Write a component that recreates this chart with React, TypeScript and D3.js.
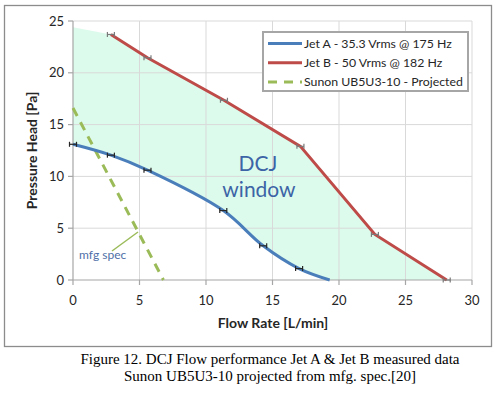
import React from "react";
import * as d3 from "d3";

const jetA: [number, number][] = [
  [0, 13.1], [2.85, 12.05], [5.6, 10.6], [11.3, 6.7], [14.3, 3.3], [17.0, 1.1], [19.3, 0],
];
const jetAMarkers: [number, number][] = [
  [0, 13.1], [2.85, 12.05], [5.6, 10.6], [11.3, 6.7], [14.3, 3.3], [17.0, 1.1],
];
const jetB: [number, number][] = [
  [2.85, 23.7], [5.6, 21.45], [11.35, 17.35], [17.1, 12.9], [22.7, 4.4], [28.1, 0],
];
const sunon: [number, number][] = [
  [0, 16.6], [6.8, 0],
];
const windowTop: [number, number][] = [[0, 24.4]];
const xTicks = [0, 5, 10, 15, 20, 25, 30];
const yTicks = [0, 5, 10, 15, 20, 25];
const legendItems = [
  { label: "Jet A - 35.3 Vrms @ 175 Hz", color: "#4a7ebb", dash: "" },
  { label: "Jet B - 50 Vrms @ 182 Hz", color: "#be4b48", dash: "" },
  { label: "Sunon UB5U3-10 - Projected", color: "#9bbb59", dash: "9,7" },
];

const FONT = "Lato, 'Open Sans', sans-serif";

export default function App() {
  const W = 498, H = 397;
  const x = d3.scaleLinear().domain([0, 30]).range([73, 472]);
  const y = d3.scaleLinear().domain([0, 25]).range([280, 21]);

  const lineLin = d3.line<[number, number]>().x(d => x(d[0])).y(d => y(d[1]));
  const lineSmooth = d3
    .line<[number, number]>()
    .x(d => x(d[0]))
    .y(d => y(d[1]))
    .curve(d3.curveCatmullRom.alpha(0.5));

  const topPath = lineLin([...windowTop, ...jetB]) as string;
  const bottomPath = (lineSmooth([...jetA].reverse()) as string).replace(/^M/, "L");
  const areaPath = topPath + bottomPath + "Z";

  const hMarker = (p: [number, number], color: string, key: string) => {
    const cx = x(p[0]), cy = y(p[1]);
    const hw = 3.5, hh = 2.5;
    return (
      <g key={key} stroke={color} strokeWidth={1.2} fill="none">
        <line x1={cx - hw} x2={cx + hw} y1={cy} y2={cy} />
        <line x1={cx - hw} x2={cx - hw} y1={cy - hh} y2={cy + hh} />
        <line x1={cx + hw} x2={cx + hw} y1={cy - hh} y2={cy + hh} />
      </g>
    );
  };

  return (
    <svg width={W} height={H} style={{ position: "absolute", left: 0, top: 0, background: "#fff" }}>
      <rect x={0} y={0} width={W} height={H} fill="#fff" />
      <rect x={4.5} y={5.5} width={487} height={341} fill="#fff" stroke="#8c8c8c" strokeWidth={1.3} />

      {/* window fill */}
      <path d={areaPath} fill="#dcfbec" stroke="none" />

      {/* gridlines */}
      {xTicks.filter(t => t > 0).map(t => (
        <line key={"gx" + t} x1={x(t)} x2={x(t)} y1={y(0)} y2={y(25)} stroke="#d9d9d9" strokeWidth={1} />
      ))}
      {yTicks.filter(t => t > 0).map(t => (
        <line key={"gy" + t} x1={x(0)} x2={x(30)} y1={y(t)} y2={y(t)} stroke="#d9d9d9" strokeWidth={1} />
      ))}

      {/* axes */}
      <line x1={x(0)} x2={x(30)} y1={y(0)} y2={y(0)} stroke="#a6a6a6" strokeWidth={1.2} />
      <line x1={x(0)} x2={x(0)} y1={y(0)} y2={y(25)} stroke="#a6a6a6" strokeWidth={1.2} />
      {xTicks.map(t => (
        <line key={"tx" + t} x1={x(t)} x2={x(t)} y1={y(0)} y2={y(0) + 5} stroke="#a6a6a6" strokeWidth={1.2} />
      ))}
      {yTicks.map(t => (
        <line key={"ty" + t} x1={x(0) - 5} x2={x(0)} y1={y(t)} y2={y(t)} stroke="#a6a6a6" strokeWidth={1.2} />
      ))}
      {xTicks.map(t => (
        <text key={"lx" + t} x={x(t)} y={305} textAnchor="middle" fontFamily={FONT} fontSize={13} fill="#262626">
          {t}
        </text>
      ))}
      {yTicks.map(t => (
        <text key={"ly" + t} x={64} y={y(t) + 4.5} textAnchor="end" fontFamily={FONT} fontSize={13} fill="#262626">
          {t}
        </text>
      ))}

      {/* axis titles */}
      <text x={273} y={328} textAnchor="middle" fontFamily={FONT} fontSize={14} fontWeight="bold" fill="#262626">
        Flow Rate [L/min]
      </text>
      <text
        transform={`translate(37,${y(12.5)}) rotate(-90)`}
        textAnchor="middle"
        fontFamily={FONT}
        fontSize={14}
        fontWeight="bold"
        fill="#262626"
      >
        Pressure Head [Pa]
      </text>

      {/* series */}
      <path d={lineLin(sunon) as string} fill="none" stroke="#9bbb59" strokeWidth={3} strokeDasharray="9,7" />
      <path d={lineSmooth(jetA) as string} fill="none" stroke="#4a7ebb" strokeWidth={3} />
      <path d={lineLin(jetB) as string} fill="none" stroke="#be4b48" strokeWidth={3} />
      {jetAMarkers.map((p, i) => hMarker(p, "#262626", "ma" + i))}
      {jetB.map((p, i) => hMarker(p, "#7a7a7a", "mb" + i))}

      {/* annotations */}
      <text x={258} y={171} textAnchor="middle" fontFamily={FONT} fontSize={21} fill="#3c64a6">DCJ</text>
      <text x={259} y={197} textAnchor="middle" fontFamily={FONT} fontSize={21} fill="#3c64a6">window</text>
      <line x1={112} y1={251} x2={138} y2={232} stroke="#9bbb59" strokeWidth={1.5} />
      <text x={79} y={259} fontFamily={FONT} fontSize={12} fill="#4f6fa8">mfg spec</text>

      {/* legend */}
      <rect x={263} y={32} width={205} height={59} fill="#fff" stroke="#a6a6a6" strokeWidth={2} />
      {legendItems.map((it, i) => {
        const ly = 43.5 + i * 19.2;
        return (
          <g key={"lg" + i}>
            <line x1={268} x2={302} y1={ly} y2={ly} stroke={it.color} strokeWidth={3} strokeDasharray={it.dash || undefined} />
            <text x={304} y={ly + 4.5} fontFamily={FONT} fontSize={12.3} fill="#262626">{it.label}</text>
          </g>
        );
      })}

      {/* caption */}
      <text x={270} y={364} textAnchor="middle" fontFamily="'Liberation Serif', 'Times New Roman', serif" fontSize={15} fill="#000">
        Figure 12. DCJ Flow performance Jet A &amp; Jet B measured data
      </text>
      <text x={270} y={381} textAnchor="middle" fontFamily="'Liberation Serif', 'Times New Roman', serif" fontSize={15} fill="#000">
        Sunon UB5U3-10 projected from mfg. spec.[20]
      </text>
    </svg>
  );
}
